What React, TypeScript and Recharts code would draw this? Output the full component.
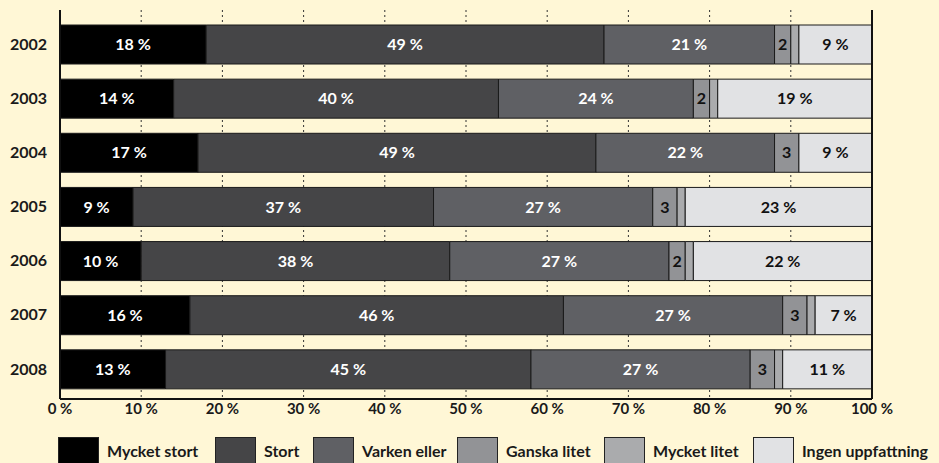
import React from 'react';
import {
  BarChart,
  Bar,
  XAxis,
  YAxis,
  CartesianGrid,
  ReferenceLine,
  LabelList,
} from 'recharts';

const years = ['2002', '2003', '2004', '2005', '2006', '2007', '2008'];
const seriesNames = ['Mycket stort', 'Stort', 'Varken eller', 'Ganska litet', 'Mycket litet', 'Ingen uppfattning'];
const mycketStort = [18, 14, 17, 9, 10, 16, 13];
const stort = [49, 40, 49, 37, 38, 46, 45];
const varkenEller = [21, 24, 22, 27, 27, 27, 27];
const ganskaLitet = [2, 2, 3, 3, 2, 3, 3];
const mycketLitet = [1, 1, 0, 1, 1, 1, 1];
const ingenUppfattning = [9, 19, 9, 23, 22, 7, 11];
const xTicks = [0, 10, 20, 30, 40, 50, 60, 70, 80, 90, 100];

const seriesValues = [mycketStort, stort, varkenEller, ganskaLitet, mycketLitet, ingenUppfattning];
const keys = ['s0', 's1', 's2', 's3', 's4', 's5'];
const colors = ['#000000', '#454547', '#5f6064', '#929396', '#aaabad', '#e1e2e4'];
const labelColors = ['#ffffff', '#ffffff', '#ffffff', '#111111', '#111111', '#111111'];
// legend box positions (px from left)
const legendX = [58, 215, 313, 457, 604, 753];

const data = years.map((year, i) => {
  const row: Record<string, string | number> = { year };
  keys.forEach((k, j) => {
    row[k] = seriesValues[j][i];
  });
  return row;
});

const FONT = 'Lato, "Open Sans", sans-serif';
const BG = '#fff7d6';

export default function App() {
  return (
    <div style={{ position: 'fixed', left: 0, top: 0, width: 939, height: 463, background: BG, overflow: 'hidden', fontFamily: FONT }}>
      <BarChart
        width={939}
        height={463}
        data={data}
        layout="vertical"
        margin={{ top: 10, right: 67, left: 0, bottom: 44 }}
        barCategoryGap={0}
      >
        <CartesianGrid horizontal={false} stroke="#333" strokeDasharray="2 3" />
        <XAxis
          type="number"
          domain={[0, 100]}
          ticks={xTicks}
          interval={0}
          height={20}
          tickFormatter={(v) => `${v} %`}
          axisLine={{ stroke: '#111', strokeWidth: 2 }}
          tickLine={false}
          tickSize={2}
          tick={{ fill: '#1a1a1a', fontSize: 15, fontWeight: 700, fontFamily: FONT }}
        />
        <YAxis
          type="category"
          dataKey="year"
          width={60}
          padding={{ top: 7, bottom: 3 }}
          axisLine={{ stroke: '#111', strokeWidth: 2 }}
          tickLine={false}
          tickSize={0}
          tickMargin={13}
          tick={{ fill: '#1a1a1a', fontSize: 16, fontWeight: 700, fontFamily: FONT }}
        />
        <ReferenceLine x={100} stroke="#111" strokeWidth={2} />
        {keys.map((k, j) => (
          <Bar
            key={k}
            dataKey={k}
            name={seriesNames[j]}
            stackId="a"
            fill={colors[j]}
            stroke="#1a1a1a"
            strokeWidth={1}
            barSize={39}
            isAnimationActive={false}
          >
            {j !== 4 && (
              <LabelList
                dataKey={k}
                position="center"
                formatter={(v: number) => (v ? (j === 3 ? `${v}` : `${v} %`) : '')}
                fill={labelColors[j]}
                style={{ fontSize: 16, fontWeight: 700, fontFamily: FONT }}
              />
            )}
          </Bar>
        ))}
      </BarChart>
      {seriesNames.map((name, j) => (
        <div
          key={name}
          style={{ position: 'absolute', left: legendX[j], top: 437, display: 'flex', alignItems: 'flex-start' }}
        >
          <div style={{ width: 41, height: 32, background: colors[j], border: '1px solid #222', boxSizing: 'border-box' }} />
          <div style={{ marginLeft: 8, marginTop: 4, fontSize: 16, fontWeight: 700, color: '#1a1a1a', whiteSpace: 'nowrap' }}>
            {name}
          </div>
        </div>
      ))}
    </div>
  );
}
